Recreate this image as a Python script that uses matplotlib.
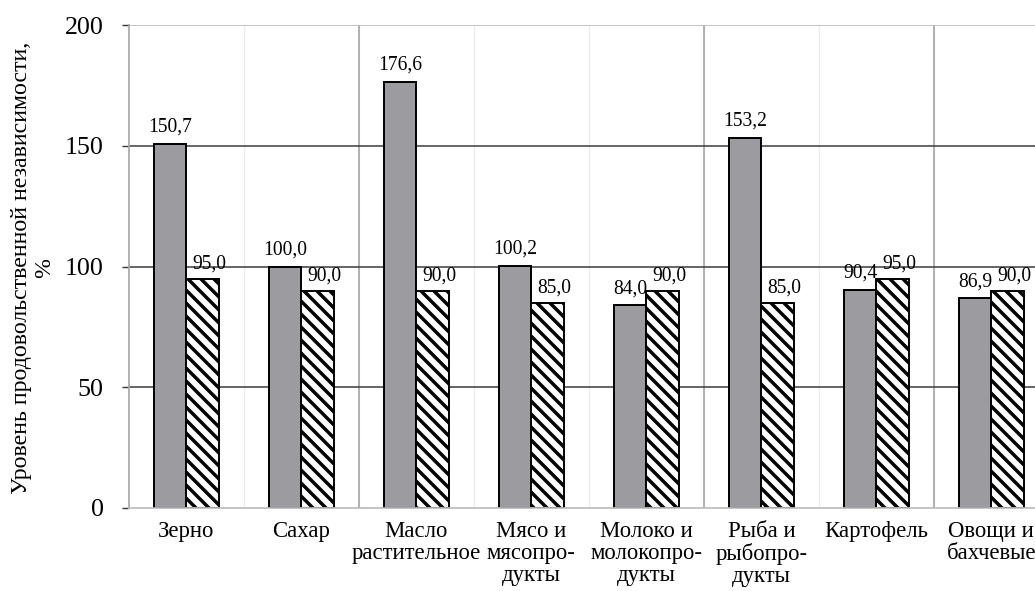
import numpy as np
import matplotlib
matplotlib.use('Agg')
import matplotlib.pyplot as plt

# Chart data
categories = ['Зерно', 'Сахар', 'Масло\nрастительное', 'Мясо и\nмясопро-\nдукты',
              'Молоко и\nмолокопро-\nдукты', 'Рыба и\nрыбопро-\nдукты', 'Картофель',
              'Овощи и\nбахчевые']
actual = [150.7, 100.0, 176.6, 100.2, 84.0, 153.2, 90.4, 86.9]
threshold = [95.0, 90.0, 90.0, 85.0, 90.0, 85.0, 95.0, 90.0]
yticks = [0, 50, 100, 150, 200]

DPI = 78
plt.rcParams['font.family'] = ['Liberation Serif', 'DejaVu Serif']
plt.rcParams['hatch.linewidth'] = 3.2

fig = plt.figure(figsize=(1035 / DPI, 591 / DPI), dpi=DPI)
ax = fig.add_axes([129 / 1035, 83 / 591, (1035 - 129) / 1035, 483 / 591])

x = np.arange(len(categories))
w = 0.285

# grid lines behind bars
for gx in np.arange(0.5, 7, 1.0):
    ax.axvline(gx, color='#ececec', lw=1.2, zorder=0)
for gx in [1.5, 4.5, 6.5]:
    ax.axvline(gx, color='#a8a8a8', lw=1.6, zorder=0)
for gy in [50, 100, 150]:
    ax.axhline(gy, color='#3a3a3a', lw=1.4, zorder=0)
ax.axhline(200, color='#bdbdbd', lw=1.6, zorder=0)

b1 = ax.bar(x - w / 2, actual, w, color='#9c9ca0', edgecolor='black', lw=1.8, zorder=2)
b2 = ax.bar(x + w / 2, threshold, w, color='white', edgecolor='black', lw=1.8,
            hatch='\\\\', zorder=2)

# value labels
def fmt(v):
    return f'{v:.1f}'.replace('.', ',')

for xi, v in zip(x, actual):
    ax.annotate(fmt(v), (xi - w / 2, v), xytext=(0, 6.5), textcoords='offset points',
                ha='center', va='bottom', fontsize=18, zorder=3)
for xi, v in zip(x, threshold):
    ax.annotate(fmt(v), (xi + w / 2, v), xytext=(6, 4.5), textcoords='offset points',
                ha='center', va='bottom', fontsize=18, zorder=3)

ax.set_xlim(-0.5, 7.38)
ax.set_ylim(0, 200)
ax.set_yticks(yticks)
ax.set_xticks(x)
ax.set_xticklabels(categories, fontsize=21, linespacing=1.05)
ax.tick_params(axis='x', length=0, pad=12)
ax.tick_params(axis='y', length=6.5, width=1.3, color='#3a3a3a', labelsize=24, pad=17)

for s in ['top', 'right']:
    ax.spines[s].set_visible(False)
ax.spines['left'].set_color('#a8a8a8')
ax.spines['left'].set_linewidth(1.6)
ax.spines['bottom'].set_color('#bdbdbd')
ax.spines['bottom'].set_linewidth(1.6)

fig.text(33 / 1035, 1 - 268 / 591, 'Уровень продовольственной независимости,\n%',
         rotation=90, ha='center', va='center', multialignment='center', fontsize=22,
         linespacing=1.1)

fig.savefig('out.png', dpi=DPI)
